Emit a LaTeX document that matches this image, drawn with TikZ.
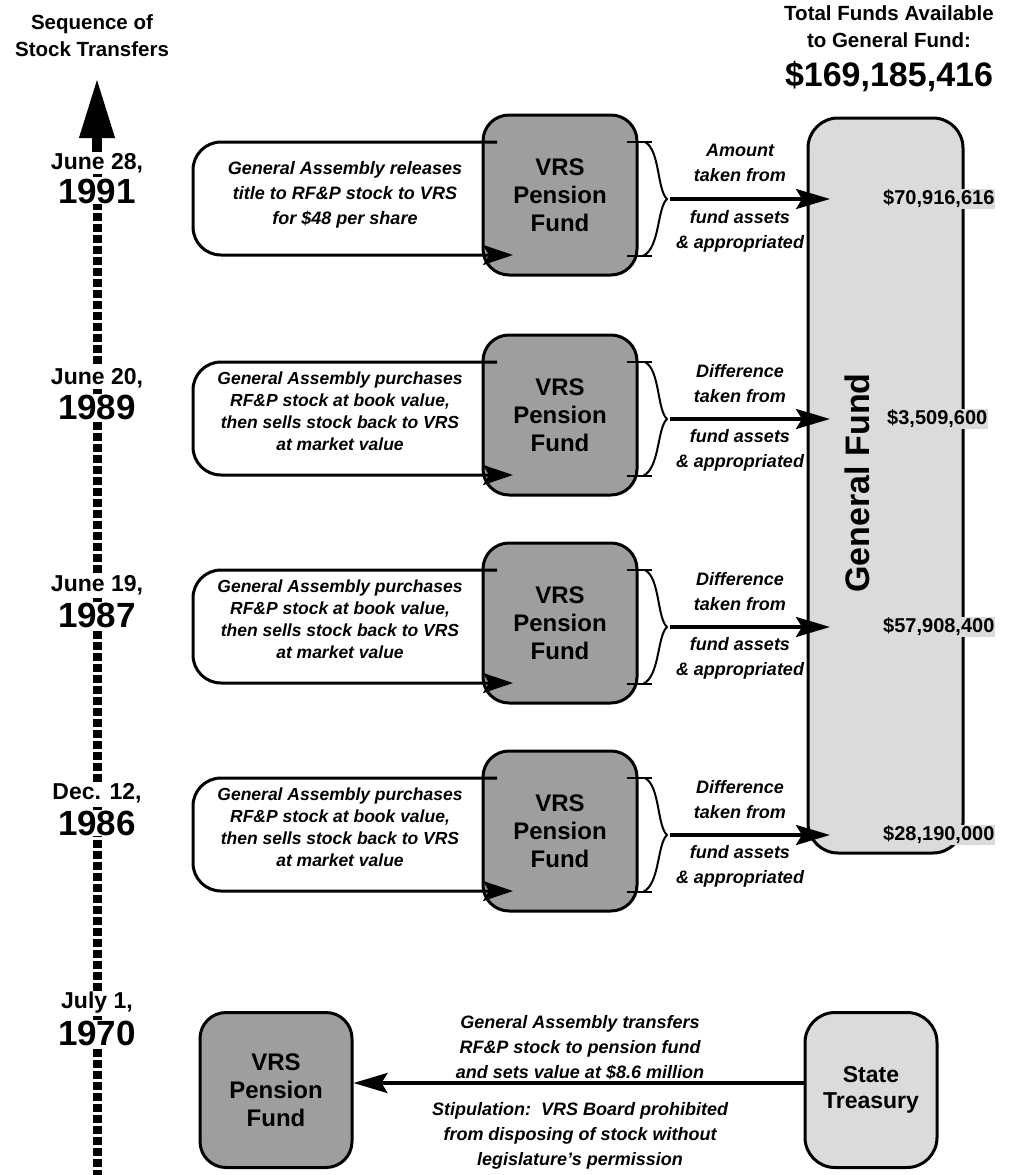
\documentclass[tikz,border=0pt]{standalone}
\usepackage{fontspec}
\setmainfont{Liberation Sans}
\usetikzlibrary{arrows.meta}

\tikzset{
  pension/.style={draw, line width=3pt, rounded corners=26pt, fill=black!38,
    minimum width=154pt, minimum height=160pt, align=center,
    font=\bfseries\fontsize{24}{28}\selectfont},
  lightbox/.style={draw, line width=3pt, rounded corners=30pt, fill=black!14},
  calloutline/.style={line width=3pt, rounded corners=28pt,
    -{Stealth[length=30pt,width=20pt,inset=6pt]}},
  flow/.style={line width=3.5pt, -{Stealth[length=34pt,width=20pt,inset=6pt]}},
  bracket/.style={line width=2pt},
  callnote/.style={align=center, font=\bfseries\itshape\fontsize{18}{25}\selectfont},
  longnote/.style={align=center, font=\bfseries\itshape\fontsize{17.5}{22}\selectfont},
  header/.style={align=center, font=\bfseries\fontsize{20.5}{27}\selectfont},
  datelabel/.style={fill=white, inner sep=1pt, font=\bfseries\fontsize{23}{23}\selectfont},
  yearlabel/.style={fill=white, inner sep=1pt, font=\bfseries\fontsize{35}{35}\selectfont},
  amount/.style={fill=black!14, inner sep=1pt, anchor=west,
    font=\bfseries\fontsize{20}{20}\selectfont},
}

\begin{document}
\begin{tikzpicture}[x=1pt, y=-1pt]
  \useasboundingbox (0,0) rectangle (1012,1175);

  % headings
  \node[header] (seq) at (92,36) {Sequence of\\Stock Transfers};
  \node[header] (total) at (889,27) {Total Funds Available\\to General Fund:};
  \node[font=\bfseries\fontsize{34}{34}\selectfont] (sum) at (889,77) {\$169,185,416};

  % time line
  \draw[line width=9pt, dash pattern=on 8pt off 3pt] (97,158) -- (97,1175);
  \draw[line width=10pt, -{Triangle[length=60pt,width=33pt]}] (97,152) -- (97,78);

  % general fund
  \node[lightbox, minimum width=155pt, minimum height=735pt] (genfund) at (885.5,485.5) {};
  \node[rotate=90, font=\bfseries\fontsize{34}{34}\selectfont] (gflabel) at (857,483) {General Fund};

  % 1991
  \node[datelabel] (d91) at (97,163) {June 28,};
  \node[yearlabel] (y91) at (97,191) {1991};
  \node[pension] (vrs91) at (560,195) {VRS\\Pension\\Fund};
  \draw[calloutline] (497,142) -- (193,142) -- (193,255) -- (513,255);
  \node[callnote] (t91) at (345,195) {General Assembly releases\\title to RF\&P stock to VRS\\for \$48 per share};
  \draw[bracket] (627,142) -- (652,142) (627,256) -- (652,256);
  \draw[bracket] (645,142) .. controls (660,150) and (657,190) .. (667,199)
    .. controls (657,208) and (660,248) .. (643,256);
  \coordinate (out91) at (670,199);
  \coordinate (in91) at (830,199);
  \draw[flow] (out91) -- (in91);
  \node[callnote] (a91) at (740,163) {Amount\\taken from};
  \node[callnote] (b91) at (740,231) {fund assets\\\& appropriated};
  \node[amount] (m91) at (882,199) {\$70,916,616};

  % 1989
  \node[datelabel] (d89) at (97,378) {June 20,};
  \node[yearlabel] (y89) at (97,407) {1989};
  \node[pension] (vrs89) at (560,415) {VRS\\Pension\\Fund};
  \draw[calloutline] (497,362) -- (193,362) -- (193,475) -- (513,475);
  \node[longnote] (t89) at (340,411) {General Assembly purchases\\RF\&P stock at book value,\\then sells stock back to VRS\\at market value};
  \draw[bracket] (627,362) -- (652,362) (627,476) -- (652,476);
  \draw[bracket] (645,362) .. controls (660,370) and (657,410) .. (667,419)
    .. controls (657,428) and (660,468) .. (643,476);
  \coordinate (out89) at (670,419);
  \coordinate (in89) at (830,419);
  \draw[flow] (out89) -- (in89);
  \node[callnote] (a89) at (740,384) {Difference\\taken from};
  \node[callnote] (b89) at (740,450) {fund assets\\\& appropriated};
  \node[amount] (m89) at (886,419) {\$3,509,600};

  % 1987
  \node[datelabel] (d87) at (97,585) {June 19,};
  \node[yearlabel] (y87) at (97,615) {1987};
  \node[pension] (vrs87) at (560,623) {VRS\\Pension\\Fund};
  \draw[calloutline] (497,570) -- (193,570) -- (193,683) -- (513,683);
  \node[longnote] (t87) at (340,619) {General Assembly purchases\\RF\&P stock at book value,\\then sells stock back to VRS\\at market value};
  \draw[bracket] (627,570) -- (652,570) (627,684) -- (652,684);
  \draw[bracket] (645,570) .. controls (660,578) and (657,618) .. (667,627)
    .. controls (657,636) and (660,676) .. (643,684);
  \coordinate (out87) at (670,627);
  \coordinate (in87) at (830,627);
  \draw[flow] (out87) -- (in87);
  \node[callnote] (a87) at (740,592) {Difference\\taken from};
  \node[callnote] (b87) at (740,658) {fund assets\\\& appropriated};
  \node[amount] (m87) at (882,627) {\$57,908,400};

  % 1986
  \node[datelabel] (d86) at (97,793) {Dec. 12,};
  \node[yearlabel] (y86) at (97,823) {1986};
  \node[pension] (vrs86) at (560,831) {VRS\\Pension\\Fund};
  \draw[calloutline] (497,778) -- (193,778) -- (193,891) -- (513,891);
  \node[longnote] (t86) at (340,827) {General Assembly purchases\\RF\&P stock at book value,\\then sells stock back to VRS\\at market value};
  \draw[bracket] (627,778) -- (652,778) (627,892) -- (652,892);
  \draw[bracket] (645,778) .. controls (660,786) and (657,826) .. (667,835)
    .. controls (657,844) and (660,884) .. (643,892);
  \coordinate (out86) at (670,835);
  \coordinate (in86) at (830,835);
  \draw[flow] (out86) -- (in86);
  \node[callnote] (a86) at (740,800) {Difference\\taken from};
  \node[callnote] (b86) at (740,866) {fund assets\\\& appropriated};
  \node[amount] (m86) at (882,835) {\$28,190,000};

  % 1970
  \node[datelabel] (d70) at (97,1003) {July 1,};
  \node[yearlabel] (y70) at (97,1033) {1970};
  \node[pension, minimum width=152pt, minimum height=155pt] (vrs70) at (276,1090) {VRS\\Pension\\Fund};
  \node[lightbox, minimum width=132pt, minimum height=155pt, align=center,
    font=\bfseries\fontsize{23}{26}\selectfont] (treasury) at (871,1090) {State\\Treasury};
  \draw[flow] ([yshift=7pt]treasury.west) -- ([yshift=7pt]vrs70.east);
  \node[callnote] (t70) at (580,1048) {General Assembly transfers\\RF\&P stock to pension fund\\and sets value at \$8.6 million};
  \node[callnote] (s70) at (580,1136) {Stipulation:\ \ VRS Board prohibited\\from disposing of stock without\\legislature's permission};
\end{tikzpicture}
\end{document}
